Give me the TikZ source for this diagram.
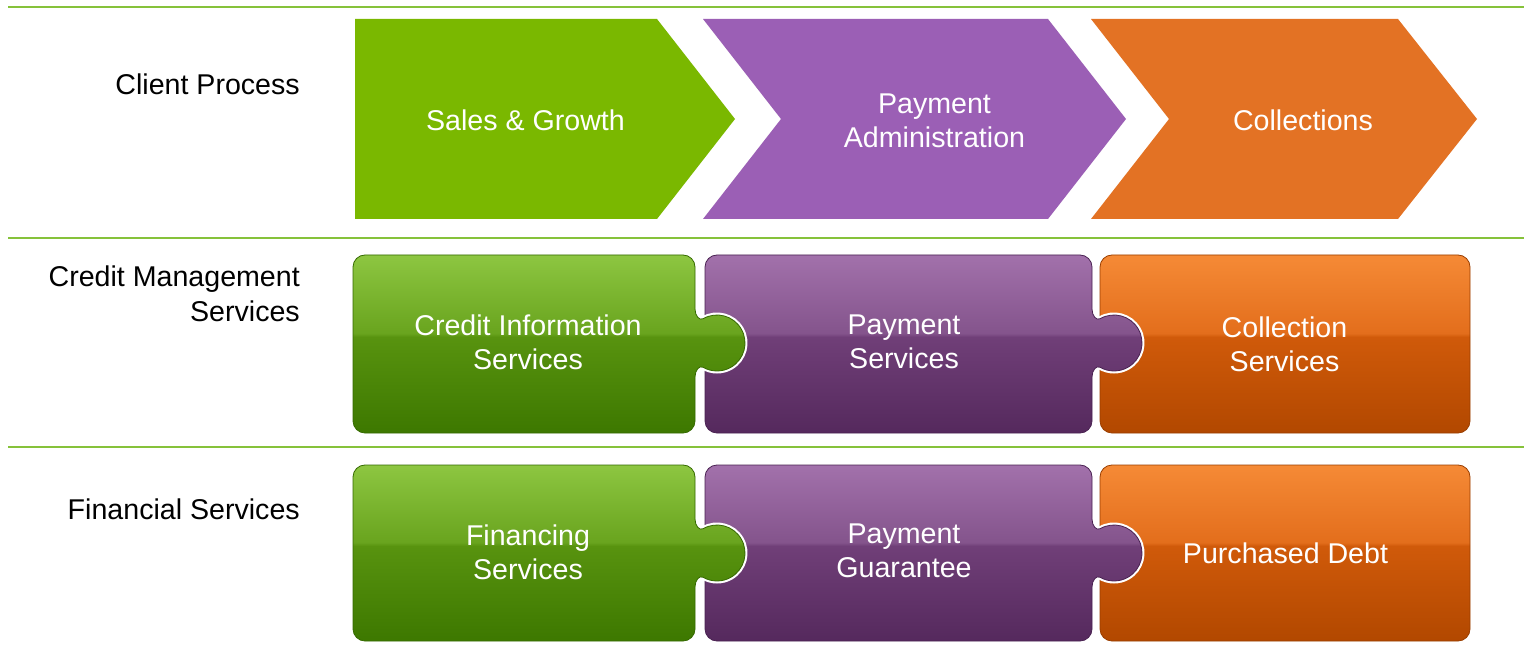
\documentclass[tikz,border=0pt]{standalone}
\usepackage{fontspec}
\setmainfont{Liberation Sans}
\definecolor{lineG}{HTML}{86C23A}
\definecolor{chG}{HTML}{7AB800}
\definecolor{chP}{HTML}{9B5FB5}
\definecolor{chO}{HTML}{E37224}
\definecolor{gTop}{HTML}{8DC641}
\definecolor{gUp}{HTML}{69A41E}
\definecolor{gLo}{HTML}{58930F}
\definecolor{gBot}{HTML}{3D7800}
\definecolor{gBord}{HTML}{356A00}
\definecolor{pTop}{HTML}{A271AB}
\definecolor{pUp}{HTML}{84548C}
\definecolor{pLo}{HTML}{703F78}
\definecolor{pBot}{HTML}{55295D}
\definecolor{pBord}{HTML}{4A2252}
\definecolor{oTop}{HTML}{F58A36}
\definecolor{oUp}{HTML}{E36E1C}
\definecolor{oLo}{HTML}{D05A0A}
\definecolor{oBot}{HTML}{B24800}
\definecolor{oBord}{HTML}{9A3E00}
\pgfdeclareverticalshading{gshade}{100bp}{color(0bp)=(gBot); color(25bp)=(gBot); color(52bp)=(gLo); color(53bp)=(gUp); color(75bp)=(gTop); color(100bp)=(gTop)}
\pgfdeclareverticalshading{pshade}{100bp}{color(0bp)=(pBot); color(25bp)=(pBot); color(52bp)=(pLo); color(53bp)=(pUp); color(75bp)=(pTop); color(100bp)=(pTop)}
\pgfdeclareverticalshading{oshade}{100bp}{color(0bp)=(oBot); color(25bp)=(oBot); color(52bp)=(oLo); color(53bp)=(oUp); color(75bp)=(oTop); color(100bp)=(oTop)}
% rounded piece without knob: x0 x1 y0 y1
\newcommand\plainpiece[4]{({#1+12},#3) -- ({#2-12},#3) arc[start angle=-90,end angle=0,radius=12] -- (#2,{#4-12}) arc[start angle=0,end angle=90,radius=12] -- ({#1+12},#4) arc[start angle=90,end angle=180,radius=12] -- (#1,{#3+12}) arc[start angle=180,end angle=270,radius=12] -- cycle}
% rounded piece with a knob on the right: x0 x1 y0 y1 c
\newcommand\knobpiece[5]{({#1+12},#3) -- ({#2-12},#3) arc[start angle=-90,end angle=0,radius=12] -- (#2,{#5-34}) .. controls (#2,{#5-27}) and ({#2+4.5},{#5-22.2}) .. ({#2+8},{#5-24.25}) arc[start angle=-120,end angle=120,radius=28] .. controls ({#2+4.5},{#5+22.2}) and (#2,{#5+27}) .. (#2,{#5+34}) -- (#2,{#4-12}) arc[start angle=0,end angle=90,radius=12] -- ({#1+12},#4) arc[start angle=90,end angle=180,radius=12] -- (#1,{#3+12}) arc[start angle=180,end angle=270,radius=12] -- cycle}
\begin{document}
\begin{tikzpicture}[x=1pt,y=-1pt,
  sepline/.style={draw=lineG,line width=2.5pt},
  rowlbl/.style={font=\fontsize{28.6}{34.5}\selectfont,align=right,anchor=east,inner sep=0pt,text=black},
  boxlbl/.style={font=\fontsize{28.6}{34}\selectfont,align=center,inner sep=0pt,text=white},
  gpiece/.style={shading=gshade,draw=gBord,line width=0.8pt},
  ppiece/.style={shading=pshade,draw=pBord,line width=0.8pt},
  opiece/.style={shading=oshade,draw=oBord,line width=0.8pt},
  halo/.style={draw=white,line width=5pt}]
\useasboundingbox (0,0) rectangle (1524,652);
\fill[white] (0,0) rectangle (1524,652);
% separator lines
\coordinate (l1a) at (8,7); \coordinate (l1b) at (1524,7);
\coordinate (l2a) at (8,238); \coordinate (l2b) at (1524,238);
\coordinate (l3a) at (8,447); \coordinate (l3b) at (1524,447);
\draw[sepline] (l1a) -- (l1b);
\draw[sepline] (l2a) -- (l2b);
\draw[sepline] (l3a) -- (l3b);
% chevrons
\fill[chG] (355,19) -- (657,19) -- (735,119) -- (657,219) -- (355,219) -- cycle;
\fill[chP] (703,19) -- (1048,19) -- (1126,119) -- (1048,219) -- (703,219) -- (781,119) -- cycle;
\fill[chO] (1091,19) -- (1398,19) -- (1477,119) -- (1398,219) -- (1091,219) -- (1169,119) -- cycle;
% row 2 pieces
\shade[opiece] \plainpiece{1100}{1470}{255}{433};
\draw[halo] \knobpiece{705}{1092}{255}{433}{343};
\shade[ppiece] \knobpiece{705}{1092}{255}{433}{343};
\draw[halo] \knobpiece{353}{695}{255}{433}{343};
\shade[gpiece] \knobpiece{353}{695}{255}{433}{343};
% row 3 pieces
\shade[opiece] \plainpiece{1100}{1470}{465}{641};
\draw[halo] \knobpiece{705}{1092}{465}{641}{553};
\shade[ppiece] \knobpiece{705}{1092}{465}{641}{553};
\draw[halo] \knobpiece{353}{695}{465}{641}{553};
\shade[gpiece] \knobpiece{353}{695}{465}{641}{553};
% row labels
\node[rowlbl] (cp) at (300,84) {Client Process};
\node[rowlbl] (cms) at (300,294) {Credit Management\\Services};
\node[rowlbl] (fs) at (300,509) {Financial Services};
% chevron labels
\node[boxlbl] (sg) at (525.5,120) {Sales \& Growth};
\node[boxlbl] (pa) at (934.5,121) {Payment\\Administration};
\node[boxlbl] (co) at (1303,120) {Collections};
% piece labels
\node[boxlbl] (cis) at (528,342) {Credit Information\\Services};
\node[boxlbl] (ps) at (904,342) {Payment\\Services};
\node[boxlbl] (cs) at (1284.5,344) {Collection\\Services};
\node[boxlbl] (fis) at (528,552) {Financing\\Services};
\node[boxlbl] (pg) at (904,551) {Payment\\Guarantee};
\node[boxlbl] (pd) at (1285.5,553) {Purchased Debt};
\end{tikzpicture}
\end{document}
